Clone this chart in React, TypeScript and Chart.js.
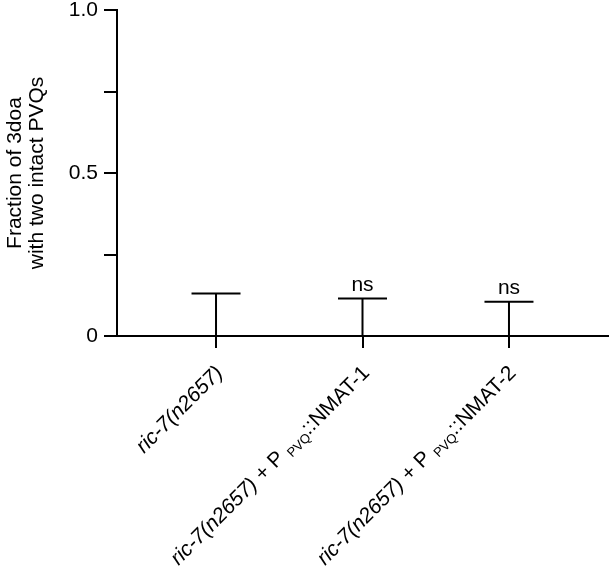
import React, { useEffect, useRef } from 'react';
import { Chart, registerables } from 'chart.js';

Chart.register(...registerables);

type Seg = { t: string; italic?: boolean; sub?: boolean };

// ---- data ----
const categoryPositions = [0, 1, 2];
const categoryLabels: Seg[][] = [
  [{ t: 'ric-7(n2657)', italic: true }],
  [{ t: 'ric-7(n2657)', italic: true }, { t: ' + P ' }, { t: 'PVQ', sub: true }, { t: '::NMAT-1' }],
  [{ t: 'ric-7(n2657)', italic: true }, { t: ' + P ' }, { t: 'PVQ', sub: true }, { t: '::NMAT-2' }],
];
const meanValues = [0, 0, 0];
const errorTops = [0.13, 0.115, 0.105];
const significance = ['', 'ns', 'ns'];
const yTickValues = [0, 0.25, 0.5, 0.75, 1];
const yTickLabels = ['0', '', '0.5', '', '1.0'];
const yTitle = ['Fraction of 3doa', 'with two intact PVQs'];

const FONT = "Arial, 'Liberation Sans', Helvetica, sans-serif";
const FS = 21;

const annotatePlugin = {
  id: 'annotate',
  afterDatasetsDraw(chart: any) {
    const { ctx } = chart;
    const xs = chart.scales.x;
    const ys = chart.scales.y;
    ctx.save();
    ctx.strokeStyle = '#000';
    ctx.lineWidth = 2;
    ctx.fillStyle = '#000';
    categoryPositions.forEach((c, i) => {
      const px = xs.getPixelForValue(c);
      const y0 = ys.getPixelForValue(meanValues[i]);
      const y1 = ys.getPixelForValue(errorTops[i]);
      ctx.beginPath();
      ctx.moveTo(px, y0);
      ctx.lineTo(px, y1);
      ctx.moveTo(px - 24.5, y1);
      ctx.lineTo(px + 24.5, y1);
      ctx.stroke();
      if (significance[i]) {
        ctx.font = `${FS}px ${FONT}`;
        ctx.textAlign = 'center';
        ctx.textBaseline = 'alphabetic';
        ctx.fillText(significance[i], px, y1 - 8);
      }
    });
    ctx.restore();
  },
  afterDraw(chart: any) {
    const { ctx } = chart;
    const xs = chart.scales.x;
    ctx.save();
    ctx.fillStyle = '#000';
    categoryPositions.forEach((c, i) => {
      const px = xs.getPixelForValue(c);
      const segs = categoryLabels[i];
      const fontOf = (s: Seg) =>
        `${s.italic ? 'italic ' : ''}${s.sub ? 13 : FS}px ${FONT}`;
      let total = 0;
      const widths = segs.map((s) => {
        ctx.font = fontOf(s);
        const w = ctx.measureText(s.t).width;
        total += w;
        return w;
      });
      ctx.translate(px + 8, xs.top + 38);
      ctx.rotate(-Math.PI / 4);
      ctx.textAlign = 'left';
      ctx.textBaseline = 'alphabetic';
      let x = -total;
      segs.forEach((s, k) => {
        ctx.font = fontOf(s);
        ctx.fillText(s.t, x, s.sub ? 4 : 0);
        x += widths[k];
      });
      ctx.setTransform(1, 0, 0, 1, 0, 0);
    });
    ctx.restore();
  },
};

export default function App() {
  const ref = useRef<HTMLCanvasElement>(null);
  useEffect(() => {
    if (!ref.current) return;
    const chart = new Chart(ref.current, {
      type: 'scatter',
      data: {
        datasets: [
          {
            data: categoryPositions.map((c, i) => ({ x: c, y: meanValues[i] })),
            pointRadius: 0,
            borderColor: '#000',
            backgroundColor: '#000',
          },
        ],
      },
      options: {
        responsive: false,
        animation: false,
        devicePixelRatio: 1,
        layout: { padding: { top: 10, right: 2, left: 0, bottom: 0 } },
        plugins: { legend: { display: false }, tooltip: { enabled: false } },
        scales: {
          x: {
            type: 'linear',
            min: -0.676,
            max: 2.676,
            afterBuildTicks: (s: any) => {
              s.ticks = categoryPositions.map((v) => ({ value: v }));
            },
            afterFit: (s: any) => {
              s.height = 233;
              s.paddingLeft = 0;
              s.paddingRight = 0;
            },
            ticks: { display: false },
            grid: {
              drawOnChartArea: false,
              drawTicks: true,
              tickLength: 12,
              color: '#000',
              lineWidth: 2,
            },
            border: { display: true, color: '#000', width: 2 },
          },
          y: {
            type: 'linear',
            min: 0,
            max: 1,
            afterBuildTicks: (s: any) => {
              s.ticks = yTickValues.map((v) => ({ value: v }));
            },
            afterFit: (s: any) => {
              s.width = 117;
              s.paddingTop = 0;
              s.paddingBottom = 0;
            },
            ticks: {
              color: '#000',
              padding: 6,
              font: { family: FONT, size: FS, lineHeight: 1 },
              callback: (v: any) => {
                const idx = yTickValues.indexOf(Number(v));
                return idx >= 0 ? yTickLabels[idx] : '';
              },
            },
            grid: {
              drawOnChartArea: false,
              drawTicks: true,
              tickLength: 13,
              color: '#000',
              lineWidth: 2,
            },
            border: { display: true, color: '#000', width: 2 },
            title: {
              display: true,
              text: yTitle,
              color: '#000',
              font: { family: FONT, size: FS, lineHeight: 1.05 },
              padding: { top: 4, bottom: 0 },
            },
          },
        },
      },
      plugins: [annotatePlugin],
    } as any);
    return () => chart.destroy();
  }, []);
  return (
    <div style={{ position: 'fixed', left: 0, top: 0, width: 610, height: 569, background: '#fff' }}>
      <canvas ref={ref} width={610} height={569} style={{ display: 'block' }} />
    </div>
  );
}
